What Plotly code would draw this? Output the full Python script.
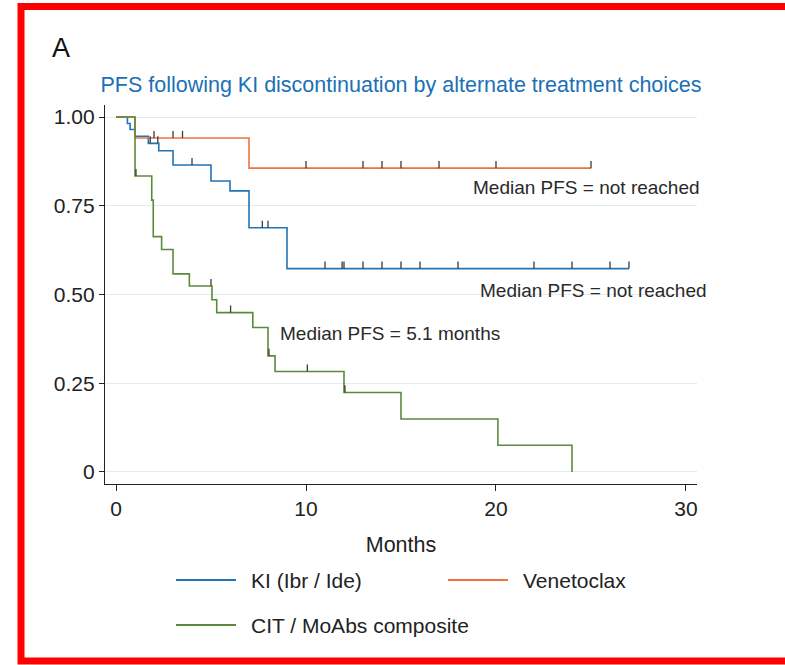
import plotly.graph_objects as go

# ---------------- data ----------------
ki_times = [0, 0.6, 0.74, 1.0, 1.7, 2.25, 3.0, 5.0, 6.0, 7.0, 9.0, 27.0]
ki_surv = [1.0, 0.982, 0.965, 0.946, 0.926, 0.905, 0.865, 0.82, 0.792, 0.688, 0.573, 0.573]
ki_censor = [1.8, 2.2, 4.0, 7.7, 8.0, 11.0, 11.9, 12.0, 13.0, 14.0, 15.0, 16.0, 18.0, 22.0, 24.0, 26.0, 27.0]

ven_times = [0, 1.0, 7.0, 25.0]
ven_surv = [1.0, 0.941, 0.856, 0.856]
ven_censor = [2.0, 3.0, 3.5, 10.0, 13.0, 14.0, 15.0, 17.0, 20.0, 25.0]

cit_times = [0, 1.0, 1.88, 1.96, 2.4, 3.0, 3.86, 5.05, 5.3, 7.2, 8.0, 8.37, 12.0, 15.0, 20.1, 24.0]
cit_surv = [1.0, 0.834, 0.766, 0.663, 0.627, 0.558, 0.524, 0.485, 0.449, 0.407, 0.327, 0.283, 0.224, 0.149, 0.075, 0.0]
cit_censor = [1.05, 5.0, 6.03, 8.05, 10.07, 12.05]

series_names = ["KI (Ibr / Ide)", "Venetoclax", "CIT / MoAbs composite"]
y_tickvals = [0, 0.25, 0.5, 0.75, 1.0]
y_ticktext = ["0", "0.25", "0.50", "0.75", "1.00"]
x_tickvals = [0, 10, 20, 30]

title_text = "PFS following KI discontinuation by alternate treatment choices"
median_texts = ["Median PFS = not reached", "Median PFS = not reached", "Median PFS = 5.1 months"]

# ---------------- style ----------------
FONT = "Liberation Sans, Arial, sans-serif"
colors = ["#2274b5", "#f07241", "#5a8a3c"]
censor_color = "#3a3a3a"
grid_color = "#dfedf0"
TICK_H = 0.02


def step_value(times, surv, t):
    v = surv[0]
    for tt, s in zip(times, surv):
        if tt <= t:
            v = s
    return v


def censor_segments(times, surv, cens):
    xs, ys = [], []
    for c in cens:
        s = step_value(times, surv, c)
        xs += [c, c, None]
        ys += [s, s + TICK_H, None]
    return xs, ys


fig = go.Figure()
groups = [(ki_times, ki_surv, ki_censor), (ven_times, ven_surv, ven_censor), (cit_times, cit_surv, cit_censor)]

for (t, s, c), name, col in zip(groups, series_names, colors):
    fig.add_trace(go.Scatter(x=t, y=s, mode="lines", line=dict(color=col, width=1.6, shape="hv"),
                             name=name, showlegend=False, hoverinfo="skip"))
for (t, s, c), col in zip(groups, colors):
    cx, cy = censor_segments(t, s, c)
    fig.add_trace(go.Scatter(x=cx, y=cy, mode="lines", line=dict(color=censor_color, width=1.3),
                             showlegend=False, hoverinfo="skip"))

# plot area in pixels: x 105..697, y 105..484
L, R, T, B = 105, 88, 105, 181
W, H = 785, 665
pw, ph = W - L - R, H - T - B


def px2paper(px, py):
    return (px - L) / pw, (H - B - py) / ph


annots = []
# panel letter
ax, ay = px2paper(61, 48)
annots.append(dict(x=ax, y=ay, xref="paper", yref="paper", text="A", showarrow=False,
                   font=dict(family=FONT, size=27, color="#111"), xanchor="center", yanchor="middle"))
# median labels
mx, my = px2paper(702, 187)
annots.append(dict(x=mx, y=my, xref="paper", yref="paper", text=median_texts[0], showarrow=False,
                   font=dict(family=FONT, size=19, color="#2a2a2a"), xanchor="right", yanchor="middle"))
mx, my = px2paper(709, 290)
annots.append(dict(x=mx, y=my, xref="paper", yref="paper", text=median_texts[1], showarrow=False,
                   font=dict(family=FONT, size=19, color="#2a2a2a"), xanchor="right", yanchor="middle"))
annots.append(dict(x=8.53, y=0.389, xref="x", yref="y", text=median_texts[2], showarrow=False,
                   font=dict(family=FONT, size=19, color="#2a2a2a"), xanchor="left", yanchor="middle"))

shapes = []
# manual legend: sample lines + labels
legend_pos = [(176, 580), (448, 580), (176, 625)]
for (lx, ly), name, col in zip(legend_pos, series_names, colors):
    x0, y0 = px2paper(lx, ly)
    x1, _ = px2paper(lx + 60, ly)
    shapes.append(dict(type="line", xref="paper", yref="paper", x0=x0, x1=x1, y0=y0, y1=y0,
                       line=dict(color=col, width=1.8)))
    tx, _ = px2paper(lx + 73, ly)
    annots.append(dict(x=tx, y=y0, xref="paper", yref="paper", text=name, showarrow=False,
                       font=dict(family=FONT, size=21, color="#222"), xanchor="left", yanchor="middle"))

# red frame
fx0, fy0 = px2paper(21, 661)
fx1, fy1 = px2paper(820, 6.5)
shapes.append(dict(type="rect", xref="paper", yref="paper", x0=fx0, y0=fy0, x1=fx1, y1=fy1,
                   line=dict(color="#ff0000", width=7), fillcolor="rgba(0,0,0,0)", layer="above"))

fig.update_layout(
    width=W, height=H,
    margin=dict(l=L, r=R, t=T, b=B, autoexpand=False),
    paper_bgcolor="white", plot_bgcolor="white",
    font=dict(family=FONT, size=21, color="#222"),
    showlegend=False,
    title=dict(text=title_text, x=401 / W, y=1 - 84 / H, xref="container",
               yref="container", xanchor="center", yanchor="middle",
               font=dict(family=FONT, size=21.5, color="#1b70b5")),
    xaxis=dict(range=[-0.58, 30.58], tickvals=x_tickvals, ticks="outside", ticklen=6, tickwidth=1.3,
               tickcolor="#222", showline=True, linecolor="#222", linewidth=1.3, showgrid=False,
               zeroline=False, tickfont=dict(size=21, color="#222"),
               title=dict(text="Months", font=dict(size=21.5, color="#222"), standoff=17)),
    yaxis=dict(range=[-0.034, 1.034], tickvals=y_tickvals, ticktext=y_ticktext, ticks="outside",
               ticklen=5, tickwidth=1.3, tickcolor="#222", showline=True, linecolor="#222",
               linewidth=1.3, showgrid=True, gridcolor=grid_color, gridwidth=1.3, zeroline=False,
               tickfont=dict(size=21, color="#222")),
    annotations=annots,
    shapes=shapes,
)

fig.write_html("out.html", config={"displayModeBar": False},
               post_script="document.body.style.margin='0';document.body.style.overflow='hidden';")
